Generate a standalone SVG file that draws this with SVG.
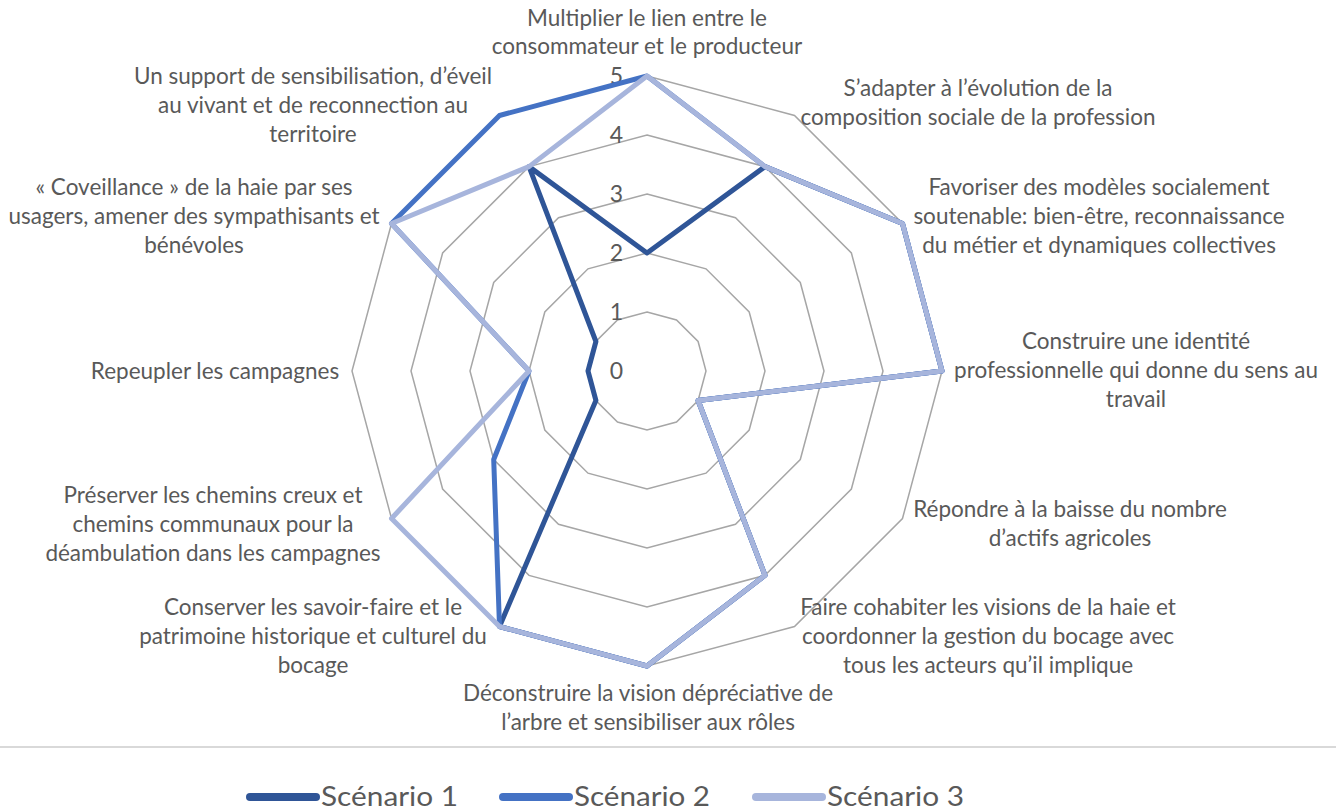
<svg xmlns="http://www.w3.org/2000/svg" width="1336" height="812" viewBox="0 0 1336 812">
<style>
.lbl{font-family:Lato,"Liberation Sans",sans-serif;font-size:22.5px;fill:#595959;text-anchor:middle}
.val{font-family:Lato,"Liberation Sans",sans-serif;font-size:23px;fill:#595959;text-anchor:end}
.leg{font-family:Lato,"Liberation Sans",sans-serif;font-size:26px;fill:#595959}
.grid{fill:none;stroke:#A6A6A6;stroke-width:1.5}
.s{fill:none;stroke-width:5;stroke-linejoin:round}
.s1{stroke:#2F5597}.s2{stroke:#4472C4}.s3{stroke:#A7B5DC}
.sw{stroke-width:8;stroke-linecap:round}
</style>
<rect width="1336" height="812" fill="#FFFFFF"/>
<g id="grid">
<polygon class="grid" points="647,312 676.5,319.91 698.09,341.5 706,371 698.09,400.5 676.5,422.09 647,430 617.5,422.09 595.91,400.5 588,371 595.91,341.5 617.5,319.91"/>
<polygon class="grid" points="647,253 706,268.81 749.19,312 765,371 749.19,430 706,473.19 647,489 588,473.19 544.81,430 529,371 544.81,312 588,268.81"/>
<polygon class="grid" points="647,194 735.5,217.71 800.29,282.5 824,371 800.29,459.5 735.5,524.29 647,548 558.5,524.29 493.71,459.5 470,371 493.71,282.5 558.5,217.71"/>
<polygon class="grid" points="647,135 765,166.62 851.38,253 883,371 851.38,489 765,575.38 647,607 529,575.38 442.62,489 411,371 442.62,253 529,166.62"/>
<polygon class="grid" points="647,76 794.5,115.52 902.48,223.5 942,371 902.48,518.5 794.5,626.48 647,666 499.5,626.48 391.52,518.5 352,371 391.52,223.5 499.5,115.52"/>
</g>
<g id="scale">
<text class="val" x="623" y="379">0</text>
<text class="val" x="623" y="320">1</text>
<text class="val" x="623" y="261">2</text>
<text class="val" x="623" y="202">3</text>
<text class="val" x="623" y="143">4</text>
<text class="val" x="623" y="84">5</text>
</g>
<g id="connectors">
<polygon id="scenario1" class="s s1" points="647,253 765,166.62 902.48,223.5 942,371 698.09,400.5 765,575.38 647,666 499.5,626.48 595.91,400.5 588,371 595.91,341.5 529,166.62"/>
<polygon id="scenario2" class="s s2" points="647,76 765,166.62 902.48,223.5 942,371 698.09,400.5 765,575.38 647,666 499.5,626.48 493.71,459.5 529,371 391.52,223.5 499.5,115.52"/>
<polygon id="scenario3" class="s s3" points="647,76 765,166.62 902.48,223.5 942,371 698.09,400.5 765,575.38 647,666 499.5,626.48 391.52,518.5 529,371 391.52,223.5 529,166.62"/>
</g>
<g id="axis0"><text class="lbl" x="647" y="26">Multiplier le lien entre le</text><text class="lbl" x="647" y="54">consommateur et le producteur</text></g>
<g id="axis1"><text class="lbl" x="978" y="96">S’adapter à l’évolution de la</text><text class="lbl" x="978" y="125">composition sociale de la profession</text></g>
<g id="axis2"><text class="lbl" x="1099" y="195">Favoriser des modèles socialement</text><text class="lbl" x="1099" y="224">soutenable: bien-être, reconnaissance</text><text class="lbl" x="1099" y="253">du métier et dynamiques collectives</text></g>
<g id="axis3"><text class="lbl" x="1136" y="349">Construire une identité</text><text class="lbl" x="1136" y="378">professionnelle qui donne du sens au</text><text class="lbl" x="1136" y="407">travail</text></g>
<g id="axis4"><text class="lbl" x="1070" y="517">Répondre à la baisse du nombre</text><text class="lbl" x="1070" y="546">d’actifs agricoles</text></g>
<g id="axis5"><text class="lbl" x="988" y="615">Faire cohabiter les visions de la haie et</text><text class="lbl" x="988" y="644">coordonner la gestion du bocage avec</text><text class="lbl" x="988" y="673">tous les acteurs qu’il implique</text></g>
<g id="axis6"><text class="lbl" x="648" y="701">Déconstruire la vision dépréciative de</text><text class="lbl" x="648" y="730">l’arbre et sensibiliser aux rôles</text></g>
<g id="axis7"><text class="lbl" x="313" y="615">Conserver les savoir-faire et le</text><text class="lbl" x="313" y="644">patrimoine historique et culturel du</text><text class="lbl" x="313" y="673">bocage</text></g>
<g id="axis8"><text class="lbl" x="213" y="503">Préserver les chemins creux et</text><text class="lbl" x="213" y="532">chemins communaux pour la</text><text class="lbl" x="213" y="561">déambulation dans les campagnes</text></g>
<g id="axis9"><text class="lbl" x="215" y="379">Repeupler les campagnes</text></g>
<g id="axis10"><text class="lbl" x="194" y="195">« Coveillance » de la haie par ses</text><text class="lbl" x="194" y="224">usagers, amener des sympathisants et</text><text class="lbl" x="194" y="253">bénévoles</text></g>
<g id="axis11"><text class="lbl" x="313" y="84">Un support de sensibilisation, d’éveil</text><text class="lbl" x="313" y="113">au vivant et de reconnection au</text><text class="lbl" x="313" y="142">territoire</text></g>
<line x1="0" y1="747" x2="1336" y2="747" stroke="#D9D9D9" stroke-width="2"/>
<g id="legend">
<line class="sw s1" x1="250" y1="797" x2="316" y2="797"/>
<text class="leg" x="321" y="806" textLength="137" lengthAdjust="spacingAndGlyphs">Scénario 1</text>
<line class="sw s2" x1="503" y1="797" x2="569" y2="797"/>
<text class="leg" x="574" y="806" textLength="136" lengthAdjust="spacingAndGlyphs">Scénario 2</text>
<line class="sw s3" x1="756" y1="797" x2="822" y2="797"/>
<text class="leg" x="827" y="806" textLength="137" lengthAdjust="spacingAndGlyphs">Scénario 3</text>
</g>
</svg>
